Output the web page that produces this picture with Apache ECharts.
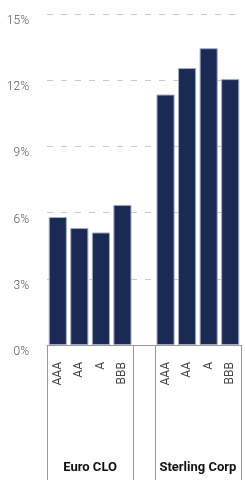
<!DOCTYPE html>
<html>
<head>
<meta charset="utf-8">
<script src="https://cdn.jsdelivr.net/npm/echarts@6/dist/echarts.min.js"></script>
<style>
html,body{margin:0;padding:0;background:#fff;}
#chart{width:245px;height:480px;}
</style>
</head>
<body>
<div id="chart"></div>
<script>
// Data
var groups = ['Euro CLO', 'Sterling Corp'];
var ratings = ['AAA', 'AA', 'A', 'BBB'];
var euroClo = [5.8, 5.3, 5.1, 6.35];
var sterlingCorp = [11.35, 12.55, 13.45, 12.05];
var yTicks = [0, 3, 6, 9, 12, 15];

// Build 9-slot category axis: group 1, spacer, group 2
var categories = ratings.concat(['']).concat(ratings);
var values = euroClo.concat(['-']).concat(sterlingCorp);
var n = ratings.length;
var boundaryIdx = [0, n, n + 1];
var groupCenters = [n / 2, n + 1 + n / 2];

var chart = echarts.init(document.getElementById('chart'), null, {renderer: 'canvas'});
var font = 'Roboto, "Liberation Sans", sans-serif';
chart.setOption({
  animation: false,
  grid: {left: 47, right: 4, top: 14, bottom: 135, containLabel: false},
  yAxis: {
    type: 'value', min: yTicks[0], max: yTicks[yTicks.length - 1], interval: 3,
    axisLine: {show: false}, axisTick: {show: false},
    axisLabel: {formatter: '{value}%', margin: 18, color: '#555', fontSize: 12,
      fontFamily: font, fontWeight: 300, verticalAlign: 'top', padding: [1, 0, 0, 0]},
    splitLine: {lineStyle: {color: '#c8c8c8', type: [6, 8], width: 1}}
  },
  xAxis: [{
    type: 'category', data: categories, position: 'bottom',
    axisLine: {show: true, lineStyle: {color: '#9a9a9a', width: 1}},
    axisTick: {show: true, length: 140, inside: false,
      interval: function (i) { return boundaryIdx.indexOf(i) >= 0; },
      lineStyle: {color: '#9a9a9a', width: 1}},
    axisLabel: {interval: 0, rotate: 90, margin: 17, color: '#444', fontSize: 12, fontFamily: font}
  }, {
    type: 'value', min: 0, max: categories.length, interval: 1, position: 'bottom', offset: 116,
    axisLine: {show: false}, axisTick: {show: false}, splitLine: {show: false},
    axisLabel: {margin: 0, color: '#111', fontSize: 13, fontWeight: 'bold', fontFamily: font,
      showMinLabel: true, showMaxLabel: true,
      formatter: function (v) { var k = groupCenters.indexOf(v); return k >= 0 ? groups[k] : ''; }}
  }],
  series: [{
    type: 'bar', data: values, xAxisIndex: 0, barCategoryGap: '16%',
    itemStyle: {color: '#1b2a55', borderColor: '#a3abc2', borderWidth: 1}
  }]
});
</script>
</body>
</html>
